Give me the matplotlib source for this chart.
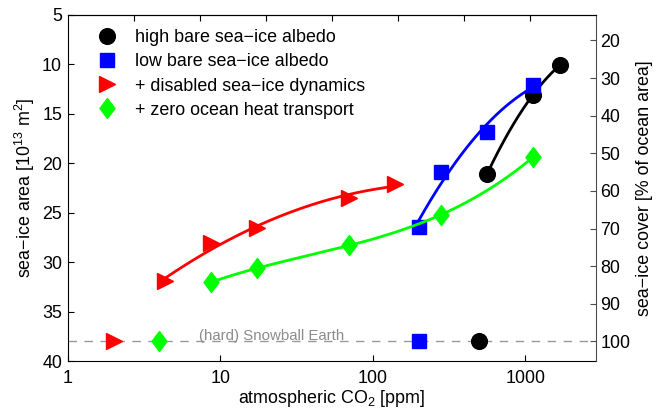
import numpy as np
import matplotlib
matplotlib.use('Agg')
import matplotlib.pyplot as plt
from matplotlib.path import Path

plt.rcParams['font.family'] = ['Liberation Sans', 'DejaVu Sans']
plt.rcParams['mathtext.default'] = 'regular'
plt.rcParams['font.size'] = 12.9

# sea-ice area [1e13 m2] against CO2 [ppm], one list per experiment
co2_high = [560, 1120, 1680]
area_high = [21.1, 13.1, 10.1]

co2_low = [200, 280, 560, 1120]
area_low = [26.4, 20.9, 16.8, 12.1]

co2_dyn = [4.375, 8.75, 17.5, 70, 140]
area_dyn = [31.9, 28.1, 26.5, 23.5, 22.1]

co2_oht = [8.75, 17.5, 70, 280, 1120]
area_oht = [32.0, 30.6, 28.3, 25.2, 19.4]

# snowball states (all at full ice cover)
snowball_area = 38.0
co2_sb = {'high': 500, 'low': 200, 'dyn': 2, 'oht': 4}

labels = ['high bare sea\u2212ice albedo', 'low bare sea\u2212ice albedo',
          '+ disabled sea\u2212ice dynamics', '+ zero ocean heat transport']

# diamond like the matlab one (a bit wider than mpl 'd')
diamond = Path([(0, 1), (0.75, 0), (0, -1), (-0.75, 0), (0, 1)],
               [Path.MOVETO, Path.LINETO, Path.LINETO, Path.LINETO, Path.CLOSEPOLY])


def fit_curve(x, y, deg):
    """Smooth polynomial fit in log10(CO2)"""
    lx = np.log10(x)
    p = np.polyfit(lx, y, deg)
    xs = np.linspace(lx.min(), lx.max(), 200)
    return 10 ** xs, np.polyval(p, xs)


fig = plt.figure(figsize=(6.62, 4.08), dpi=100)
ax = fig.add_axes([0.1021, 0.1145, 0.7982, 0.8495])

series = [
    (co2_high, area_high, 2, 'k', dict(marker='o', ms=11.3), co2_sb['high']),
    (co2_low, area_low, 2, (0, 0, 1), dict(marker='s', ms=9.6), co2_sb['low']),
    (co2_dyn, area_dyn, 2, (1, 0, 0), dict(marker='>', ms=11.5), co2_sb['dyn']),
    (co2_oht, area_oht, 3, (0, 1, 0), dict(marker=diamond, ms=14.4), co2_sb['oht']),
]

handles = []
for (x, y, deg, col, mk, xsb), lab in zip(series, labels):
    xs, ys = fit_curve(x, y, deg)
    ax.plot(xs, ys, color=col, lw=2.0)
    h, = ax.plot(x, y, ls='none', color=col, mec=col, label=lab, **mk)
    ax.plot([xsb], [snowball_area], ls='none', color=col, mec=col, **mk)
    handles.append(h)

ax.axhline(snowball_area, color='0.6', lw=1.0, dashes=(6.1, 5.4), zorder=0)
ax.text(7.3, 37.9, '(hard) Snowball Earth', color='0.55', fontsize=10.8,
        va='baseline', ha='left')

ax.set_xscale('log')
ax.set_xlim(1, 2900)
ax.set_ylim(40, 5)
ax.set_xticks([1, 10, 100, 1000])
ax.set_xticklabels(['1', '10', '100', '1000'])
ax.xaxis.set_minor_locator(matplotlib.ticker.NullLocator())
ax.set_yticks(np.arange(5, 41, 5))
ax.tick_params(direction='in', length=4, width=0.8)
ax.tick_params(axis='x', pad=6)
ax.tick_params(axis='y', pad=4)
ax.set_xlabel('atmospheric CO$_2$ [ppm]', labelpad=1)
ax.set_ylabel('sea\u2212ice area [10$^{13}$ m$^2$]')
ax.yaxis.set_label_coords(-0.058, 0.5)
ax.spines['right'].set_visible(False)

# right axis: percentage of ocean area (snowball = 100 %)
ax_r = ax.twinx()
ax_r.set_ylim(40 / snowball_area * 100, 5 / snowball_area * 100)
ax_r.set_yticks(np.arange(20, 101, 10))
ax_r.tick_params(direction='in', length=4, width=0.8, pad=3, color='0.3')
ax_r.spines['right'].set_color('0.3')
for s in ['left', 'top', 'bottom']:
    ax_r.spines[s].set_visible(False)
ax_r.set_ylabel('sea\u2212ice cover [% of ocean area]')
ax_r.yaxis.set_label_coords(1.075, 0.5)

# top edge has plain evenly spaced ticks
ax_t = ax.twiny()
ax_t.set_xlim(0, 8)
ax_t.set_xticks(range(1, 8))
ax_t.tick_params(direction='in', length=4, width=0.8, labeltop=False)
for s in ['left', 'right', 'bottom']:
    ax_t.spines[s].set_visible(False)

ax_t.legend(handles=handles, loc='upper left', bbox_to_anchor=(0.058, 0.958),
            frameon=False, borderpad=0, borderaxespad=0, handlelength=1.0,
            handletextpad=1.05, labelspacing=0.4, numpoints=1)

fig.savefig('out.png', dpi=100)
